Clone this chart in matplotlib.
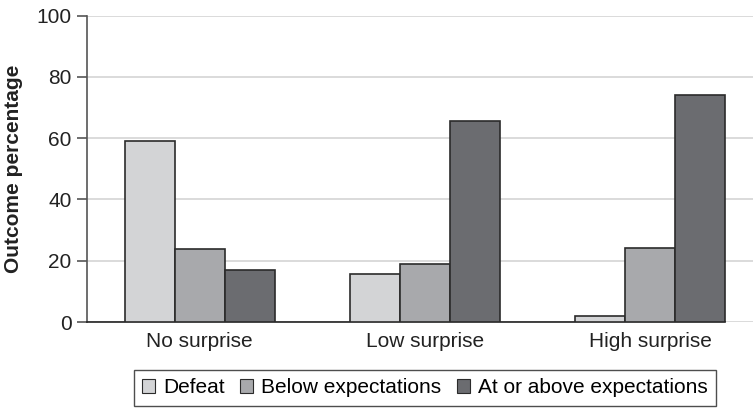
import matplotlib
matplotlib.use("Agg")
import matplotlib.pyplot as plt
import numpy as np

plt.rcParams.update({"font.family": ["Liberation Sans", "DejaVu Sans"], "font.size": 15})

groups = ["No surprise", "Low surprise", "High surprise"]
series = ["Defeat", "Below expectations", "At or above expectations"]
defeat = [59.2, 15.6, 2.1]
below = [23.9, 19.1, 24.1]
above = [16.9, 65.6, 74.2]
colors = ["#d3d4d6", "#a8a9ac", "#6b6c70"]

fig = plt.figure(figsize=(7.53, 4.09), dpi=100)
ax = fig.add_axes([0.1155, 0.2127, 0.8845, 0.7489])

x = np.arange(len(groups))
w = 0.222
for i, (vals, c, lab) in enumerate(zip([defeat, below, above], colors, series)):
    ax.bar(x + (i - 1) * w, vals, w, color=c, edgecolor="#2b2b2b", linewidth=1.2,
           label=lab, zorder=3)

ax.set_ylim(0, 100)
ax.set_xlim(-0.5, 2.457)
ax.set_yticks(range(0, 101, 20))
ax.set_xticks(x)
ax.set_xticklabels(groups)
ax.yaxis.grid(True, color="#d4d4d4", linewidth=1.2, zorder=0)
ax.set_axisbelow(True)
for s in ("top", "right"):
    ax.spines[s].set_visible(False)
ax.spines["left"].set_color("#555555")
ax.spines["left"].set_linewidth(1.2)
ax.spines["bottom"].set_color("#222222")
ax.spines["bottom"].set_linewidth(1.2)
ax.spines["bottom"].set_bounds(-0.5, 2.333)
ax.tick_params(axis="y", length=7, width=1.2, color="#555555", pad=4, labelcolor="#222222")
ax.tick_params(axis="x", length=0, pad=7, labelcolor="#222222")
ax.set_ylabel("Outcome percentage", fontweight="bold", labelpad=10, color="#222222")

leg = fig.legend(loc="center", bbox_to_anchor=(0.5644, 0.052), ncol=3, frameon=True,
                 fancybox=False, edgecolor="#222222", handlelength=0.62, handleheight=0.62,
                 handletextpad=0.38, columnspacing=0.75, borderpad=0.4, fontsize=15)
leg.get_frame().set_linewidth(1.0)
for h in leg.legend_handles:
    h.set_linewidth(0.8)

fig.savefig("out.png", dpi=100)
